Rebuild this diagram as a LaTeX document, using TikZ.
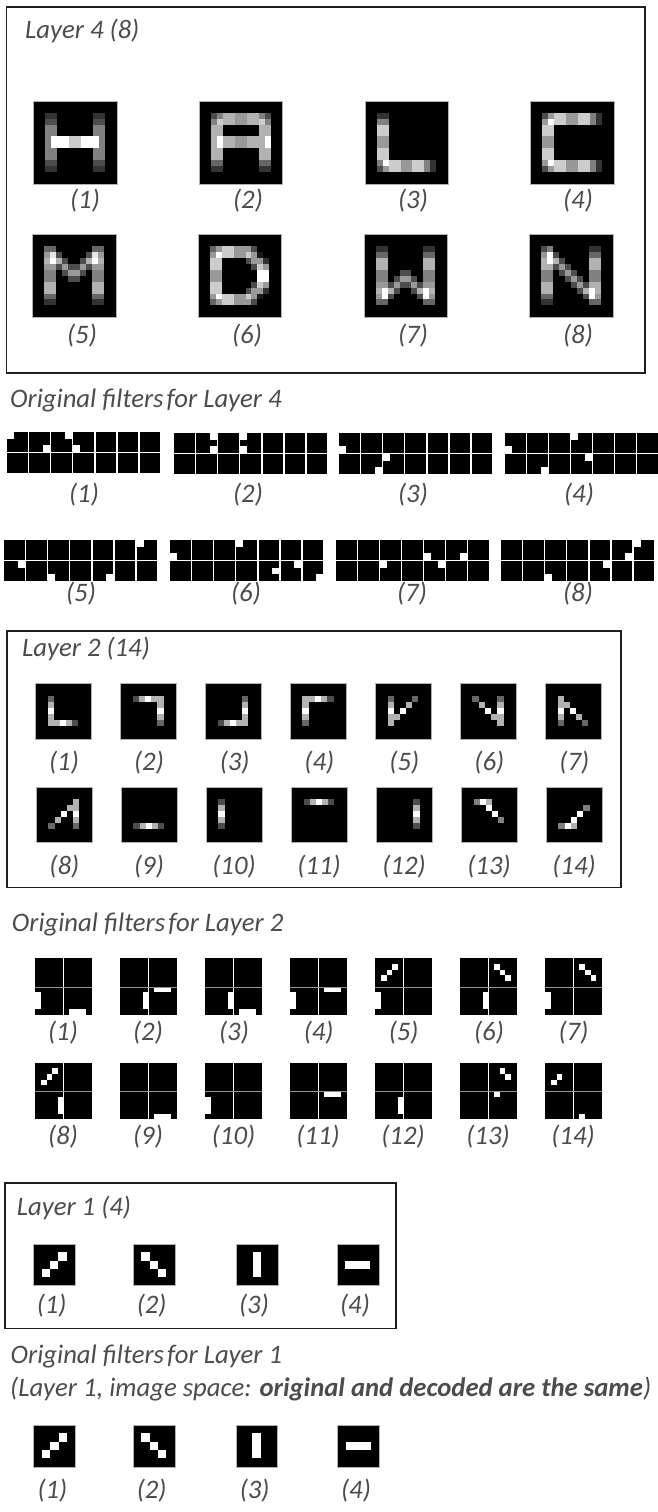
\documentclass[tikz,border=0pt]{standalone}
\usepackage{fontspec}
\setmainfont{Carlito}
\definecolor{txt}{HTML}{4C4C4C}
\definecolor{boxc}{HTML}{1E1E1E}
\newcount\gcol
\def\gcell#1{\if#10\else
  \if#1x\def\gv{100}\else\def\gv{#10}\fi
  \fill[white!\gv!black] ({\gx+\the\gcol*\gw},{\gy+\ri*\gh}) rectangle ++(\gw,\gh);\fi
  \advance\gcol by 1 }
\def\gscan#1{\if#1;\let\gnext\relax\else\gcell#1\let\gnext\gscan\fi\gnext}
% x y width height cells rows
\newcommand{\gimg}[6]{%
  \pgfmathsetmacro\gx{#1}\pgfmathsetmacro\gy{#2}%
  \pgfmathsetmacro\gw{(#3)/#5}\pgfmathsetmacro\gh{(#4)/#5}%
  \fill[black] (#1,#2) rectangle ++(#3,#4);
  \foreach \rowstr [count=\ri from 0] in {#6}{\gcol=0 \expandafter\gscan\rowstr;}
  \draw[imgedge] (#1,#2) rectangle ++(#3,#4);
}
\newcommand{\fstrip}[3]{%
  \foreach \tt in {0,...,6}\foreach \rr in {0,1}{
    \fill[black] ({#1+22.05*\tt},{#2+21*\rr}) rectangle ++(20.8,20);}
  \foreach \tt/\rr/\cc/\dd in {#3}{
    \fill[white] ({#1+22.05*\tt+\cc*6.95-.1},{#2+21*\rr+\dd*6.67-.1}) rectangle ++(7.1,6.9);}
}
\newcommand{\ffilt}[3]{%
  \fill[black] (#1,#2) rectangle ++(57,56.7);
  \foreach \cc/\dd/\ww/\hh in {#3}{
    \fill[white] ({#1+\cc*5.67},{#2+\dd*5.67}) rectangle ++({\ww*5.67},{\hh*5.67});}
  \fill[white] ({#1+27.8},#2) rectangle ++(1.3,56.7);
  \fill[gray!85] (#1,{#2+28.2}) rectangle ++(57,1);
}
\tikzset{
  imgedge/.style={draw=gray!60,line width=.35pt},
  framebox/.style={draw=boxc,line width=1.6pt},
  lab/.style={anchor=base,yshift=-8pt,text=txt,font=\fontsize{26.7}{31}\selectfont\itshape,inner sep=0pt},
  ttl/.style={anchor=base west,text=txt,font=\fontsize{26.7}{31}\selectfont\itshape,inner sep=0pt},
}
\newcommand{\lab}[4]{\node[lab] (#1) at (#2,#3) {(#4)};}
\newcommand{\tsp}{\hspace{-3pt} }
\begin{document}
\begin{tikzpicture}[x=1pt,y=-1pt]
\useasboundingbox (0,0) rectangle (657,1512);
\fill[white] (0,0) rectangle (657,1512);

% ---------- Layer 4
\draw[framebox] (6.5,7) rectangle (645,372.7);
\node[ttl] (t4) at (25,38.3) {Layer 4 (8)};
\gimg{33.3}{100.7}{83.7}{83.3}{14}{0,0,00220000002200,00330000003300,00550000005500,00550000005500,005xxx88xxx500,005xxx88xxx500,00550000005500,00550000005500,00330000003300,00220000002200}
\gimg{199.3}{100.7}{83.2}{83.3}{14}{0,0,00357766775300,00587766778500,00770000007700,00770000007700,007x7766777x00,007x7766777x00,00770000007700,00770000007700,00440000004400,00220000002200}
\gimg{364.7}{100.7}{83.6}{83.3}{14}{0,0,0022,0055,0088,0088,0066,0066,0088,0088,005x88668852,003688668852}
\gimg{530}{100.7}{83.7}{83.3}{14}{0,0,00368866885200,006x8866885200,0088,0088,0066,0066,0088,0088,006x8866885200,00368866885200}
\gimg{32.3}{234}{83.7}{83.3}{14}{0,0,004400000044,006930000396,007x730037x7,006636336366,005503663055,005500330055,007700000077,007700000077,004400000044,002200000022}
\gimg{198.3}{234}{82.7}{83.3}{14}{0,0,0046886663,006x88668610,008800003662,008800000386,0066000000xx,0066000000xx,008800000386,008800003662,006x88668610,0046886663}
\gimg{363.7}{234}{83.6}{83.3}{14}{0,0,002200000022,004400000044,007700000077,007700000077,005500330055,005503663055,006636336366,007x730037x7,006x300003x6,004400000044}
\gimg{529}{234}{83.7}{83.3}{14}{0,0,003500000022,006x30000044,007x73000077,007736300077,005503630055,005500363055,007700036377,0077000037x7,0044000003x6,002200000044}
\lab{a1}{85}{200}{1}\lab{a2}{248}{200}{2}\lab{a3}{413}{200}{3}\lab{a4}{578}{200}{4}
\lab{a5}{82}{335}{5}\lab{a6}{247}{335}{6}\lab{a7}{413}{335}{7}\lab{a8}{578}{335}{8}

\node[ttl] (o4) at (10,407) {Original filters\tsp for Layer 4};
\fstrip{7.3}{431.7}{0/0/0/0,1/0/2/2,2/0/2/0,3/0/0/2}
\fstrip{174.3}{432.7}{1/0/2/0,1/0/2/2,3/0/0/0,3/0/0/2}
\fstrip{339.3}{432.7}{0/0/0/2,1/1/2/2,2/1/0/0}
\fstrip{504.7}{432.7}{0/0/0/2,3/0/0/0,1/1/2/2,3/1/2/0}
\fstrip{4.3}{540}{6/0/0/0,0/1/2/0,2/1/0/2,4/1/2/2}
\fstrip{170.3}{540}{0/0/0/2,3/0/0/0,4/1/2/1,5/1/2/0,6/1/2/2}
\fstrip{336}{540}{4/0/0/2,5/0/2/2,2/1/0/0,4/1/2/0}
\fstrip{501.3}{540}{5/0/2/2,6/0/0/0,2/1/0/2,4/1/2/0}
\lab{b1}{84}{494}{1}\lab{b2}{248}{494}{2}\lab{b3}{413}{494}{3}\lab{b4}{579}{494}{4}
\lab{b5}{81}{593}{5}\lab{b6}{246}{593}{6}\lab{b7}{412}{593}{7}\lab{b8}{578}{593}{8}

% ---------- Layer 2
\draw[framebox] (6.7,631) rectangle (621,887.3);
\node[ttl] (t2) at (22,656.7) {Layer 2 (14)};
\gimg{35.3}{683.3}{55.4}{55.4}{9}{0,0,004,007,00x,007,0077x73}
\gimg{120.3}{683.3}{55.7}{55.4}{9}{0,0,0037x77,0000007,000000x,0000007,0000004}
\gimg{205.3}{683.3}{55.4}{55.4}{9}{0,0,0000004,0000007,000000x,0000007,0037x77}
\gimg{290}{683.3}{56}{55.4}{9}{0,0,0077x73,007,00x,007,004}
\gimg{375.3}{683.3}{55.4}{55.4}{9}{0,0,0040004,007007,00x0x,0077,007}
\gimg{460}{683.3}{56}{55.4}{9}{0,0,0040004,0007007,0000x0x,0000077,0000007}
\gimg{545.3}{683.3}{55.4}{55.4}{9}{0,0,007,0077,00x0x,007007,0040004}
\gimg{36}{786.7}{55.7}{55}{9}{0,0,0000007,0000077,0000x0x,0007007,0040004}
\gimg{121}{786.7}{55.7}{55}{9}{0,0,0,0,0,0,0037x73}
\gimg{206}{786.7}{56}{55}{9}{0,0,003,007,00x,007,003}
\gimg{291.3}{786.7}{55.4}{55}{9}{0,0,0037x73}
\gimg{376}{786.7}{56}{55}{9}{0,0,0000003,0000007,000000x,0000007,0000003}
\gimg{461.3}{786.7}{55.4}{55}{9}{0,0,005x7,0000x,00000x,0000005}
\gimg{546}{786.7}{56}{55}{9}{0,0,0,0000005,00000x,0000x,005x7}
\lab{c1}{64}{762.7}{1}\lab{c2}{149}{762.7}{2}\lab{c3}{234.7}{762.7}{3}\lab{c4}{319.3}{762.7}{4}\lab{c5}{404.3}{762.7}{5}\lab{c6}{489.3}{762.7}{6}\lab{c7}{574.3}{762.7}{7}
\lab{c8}{64.3}{866}{8}\lab{c9}{149}{866}{9}\lab{c10}{234}{866}{10}\lab{c11}{319}{866}{11}\lab{c12}{404}{866}{12}\lab{c13}{489}{866}{13}\lab{c14}{574}{866}{14}

\node[ttl] (o2) at (11.7,931.7) {Original filters\tsp for Layer 2};
\ffilt{35.3}{958.3}{0/6/1/3,6/9/3/1}
\ffilt{120}{958.3}{4/6/1/3,6/5/3/1}
\ffilt{205.3}{958.3}{4/6/1/3,6/9/3/1}
\ffilt{290}{958.3}{0/6/1/3,6/5/3/1}
\ffilt{375.3}{958.3}{1/3/1/1,2/2/1/1,3/1/1/1,0/6/1/3}
\ffilt{460}{958.3}{6/1/1/1,7/2/1/1,8/3/1/1,4/6/1/3}
\ffilt{545.3}{958.3}{6/1/1/1,7/2/1/1,8/3/1/1,0/6/1/3}
\ffilt{35.3}{1062.7}{1/3/1/1,2/2/1/1,3/1/1/1,4/6/1/3}
\ffilt{120}{1062.7}{6/9/3/1}
\ffilt{205.3}{1062.7}{0/6/1/3}
\ffilt{290}{1062.7}{6/5/3/1}
\ffilt{375.3}{1062.7}{4/6/1/3}
\ffilt{460}{1062.7}{7/1/1/1,8/2/1/1,6/5/1/1}
\ffilt{545.3}{1062.7}{1/3/1/1,2/2/1/1,6/9/1/1}
\lab{d1}{63}{1032.7}{1}\lab{d2}{148}{1032.7}{2}\lab{d3}{234}{1032.7}{3}\lab{d4}{318.7}{1032.7}{4}\lab{d5}{403.7}{1032.7}{5}\lab{d6}{489}{1032.7}{6}\lab{d7}{573.5}{1032.7}{7}
\lab{d8}{63}{1136}{8}\lab{d9}{148}{1136}{9}\lab{d10}{233.5}{1136}{10}\lab{d11}{318}{1136}{11}\lab{d12}{403}{1136}{12}\lab{d13}{488}{1136}{13}\lab{d14}{573}{1136}{14}

% ---------- Layer 1
\draw[framebox] (5,1183) rectangle (396,1328.3);
\node[ttl] (t1) at (16.7,1215) {Layer 1 (4)};
\gimg{33.3}{1244}{41.7}{41.5}{5}{0,000x,00x,0x}
\gimg{133}{1244}{41.7}{41.5}{5}{0,0x,00x,000x}
\gimg{236}{1244}{41.7}{41.5}{5}{0,00x,00x,00x}
\gimg{337}{1244}{41.7}{41.5}{5}{0,0,0xxx}
\lab{e1}{51.7}{1305}{1}\lab{e2}{151.7}{1305}{2}\lab{e3}{254}{1305}{3}\lab{e4}{355}{1305}{4}

\node[ttl] (o1) at (10.5,1363) {Original filters\tsp for Layer 1};
\node[ttl] (o1b) at (10,1396) {(Layer 1, image space: \textbf{original and decoded are the same})};
\gimg{33.5}{1425}{41.9}{41.7}{5}{0,000x,00x,0x}
\gimg{132.8}{1425}{41.9}{41.7}{5}{0,0x,00x,000x}
\gimg{235.9}{1425}{41.4}{41.7}{5}{0,00x,00x,00x}
\gimg{337.2}{1425}{41.8}{41.7}{5}{0,0,0xxx}
\lab{f1}{52.4}{1490}{1}\lab{f2}{151.7}{1490}{2}\lab{f3}{254.7}{1490}{3}\lab{f4}{356}{1490}{4}
\end{tikzpicture}
\end{document}
